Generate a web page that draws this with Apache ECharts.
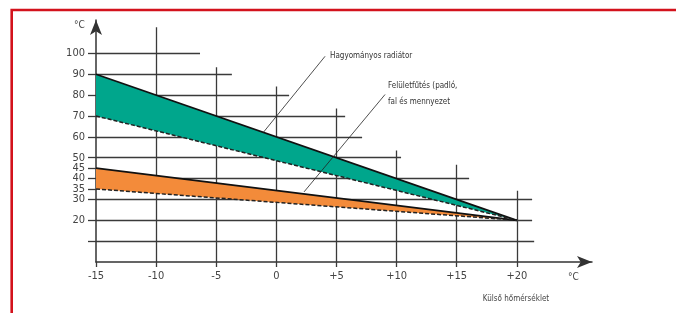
<!DOCTYPE html>
<html><head><meta charset="utf-8">
<script src="https://cdn.jsdelivr.net/npm/echarts@6/dist/echarts.min.js"></script>
<style>html,body{margin:0;padding:0;background:#fff}#c{width:676px;height:313px}</style>
</head><body><div id="c"></div>
<script>
// outdoor temperature (x) and supply temperature (y)
const xTicks = [-15, -10, -5, 0, 5, 10, 15, 20];
const yLabels = [20, 30, 35, 40, 45, 50, 60, 70, 80, 90, 100];
const yTicks = [10, 20, 30, 35, 40, 45, 50, 60, 70, 80, 90, 100];
const outdoor = [-15, 20];
const radiatorTop = [90, 20];
const radiatorBottom = [70, 20];
const floorTop = [45, 20];
const floorBottom = [35, 20];
// staircase grid: horizontal line value -> right end (°C), vertical line x -> top value
const hGrid = [[100, -6.35], [90, -3.7], [80, 1.06], [70, 5.72], [60, 7.13], [50, 10.37], [40, 16.03], [30, 21.27], [20, 21.27], [10, 21.44]];
const vGrid = [[-10, 112.5], [-5, 93.3], [0, 84.1], [5, 73.6], [10, 53.4], [15, 46.6], [20, 34.1]];
const radLeader = [[4.05, 98.6], [-1.1, 62]];
const floorLeader = [[9.04, 80.3], [2.3, 33.6]];

const FONT = "'Liberation Sans Narrow','DejaVu Sans Condensed','Arial Narrow',sans-serif";
const pts = (ys) => outdoor.map((x, i) => [x, ys[i]]);

const gridLines = [];
hGrid.forEach(([v, e]) => gridLines.push({coords: [[-15, v], [e, v]]}));
vGrid.forEach(([x, t]) => gridLines.push({coords: [[x, 0], [x, t]]}));

const bands = [
  {top: radiatorTop, bottom: radiatorBottom, color: '#00a68c'},
  {top: floorTop, bottom: floorBottom, color: '#f38b3a'}
];

const chart = echarts.init(document.getElementById('c'));
chart.setOption({
  animation: false,
  grid: {left: 96, right: 84, top: 20, bottom: 51},
  xAxis: {
    type: 'value', min: -15, max: 26.25, interval: 5,
    axisLine: {onZero: false, lineStyle: {color: '#333', width: 1.5}, symbol: ['none', 'arrow'], symbolSize: [9, 15]},
    axisTick: {customValues: xTicks, length: 5, lineStyle: {color: '#3a3a3a', width: 1.3}},
    axisLabel: {customValues: xTicks, margin: 9, color: '#444', fontFamily: FONT, fontSize: 11,
      formatter: v => v > 0 ? '+' + v : String(v)},
    splitLine: {show: false}
  },
  yAxis: {
    type: 'value', min: 0, max: 116, interval: 5,
    axisLine: {onZero: false, lineStyle: {color: '#333', width: 1.5}, symbol: ['none', 'arrow'], symbolSize: [9, 15]},
    axisTick: {customValues: yTicks, length: 8, lineStyle: {color: '#3a3a3a', width: 1.3}},
    axisLabel: {customValues: yLabels, margin: 11, color: '#444', fontFamily: FONT, fontSize: 11},
    splitLine: {show: false}
  },
  series: [
    {type: 'lines', coordinateSystem: 'cartesian2d', data: gridLines, z: 1, silent: true,
      lineStyle: {color: '#3a3a3a', width: 1.3, opacity: 1}},
    {type: 'custom', z: 2, silent: true, data: [0, 1],
      renderItem: (params, api) => {
        const b = bands[params.dataIndex];
        const poly = [];
        outdoor.forEach((x, i) => poly.push(api.coord([x, b.top[i]])));
        for (let i = outdoor.length - 1; i >= 0; i--) poly.push(api.coord([outdoor[i], b.bottom[i]]));
        return {type: 'polygon', shape: {points: poly}, style: {fill: b.color}};
      }},
    {type: 'line', data: pts(radiatorTop), symbol: 'none', lineStyle: {color: '#111', width: 1.8}, z: 4},
    {type: 'line', data: pts(radiatorBottom), symbol: 'none', lineStyle: {color: '#222', width: 1.5, type: [4, 2]}, z: 4},
    {type: 'line', data: pts(floorTop), symbol: 'none', lineStyle: {color: '#111', width: 1.8}, z: 4},
    {type: 'line', data: pts(floorBottom), symbol: 'none', lineStyle: {color: '#222', width: 1.5, type: [4, 2]}, z: 4},
    {type: 'lines', coordinateSystem: 'cartesian2d', z: 5, silent: true,
      data: [{coords: radLeader}, {coords: floorLeader}],
      lineStyle: {color: '#222', width: 0.8, opacity: 1}}
  ],
  graphic: [
    {type: 'polyline', shape: {points: [[11.7, 313], [11.7, 10], [676, 10]]}, style: {stroke: '#d3121c', lineWidth: 2.6, fill: null}},
    {type: 'text', left: 74, top: 20, style: {text: '°C', font: '10px ' + FONT, fill: '#444'}},
    {type: 'text', x: 573.5, y: 277, style: {text: '°C', font: '10px ' + FONT, fill: '#444', align: 'center', verticalAlign: 'middle'}},
    {type: 'text', x: 516, y: 299, style: {text: 'Külső hőmérséklet', font: '8px ' + FONT, fill: '#444', align: 'center', verticalAlign: 'middle'}},
    {type: 'text', x: 330, y: 56, style: {text: 'Hagyományos radiátor', font: '8px ' + FONT, fill: '#333', verticalAlign: 'middle'}},
    {type: 'text', x: 388, y: 86, style: {text: 'Felületfűtés (padló,', font: '8px ' + FONT, fill: '#333', verticalAlign: 'middle'}},
    {type: 'text', x: 388, y: 101.5, style: {text: 'fal és mennyezet', font: '8px ' + FONT, fill: '#333', verticalAlign: 'middle'}}
  ]
});
</script></body></html>
